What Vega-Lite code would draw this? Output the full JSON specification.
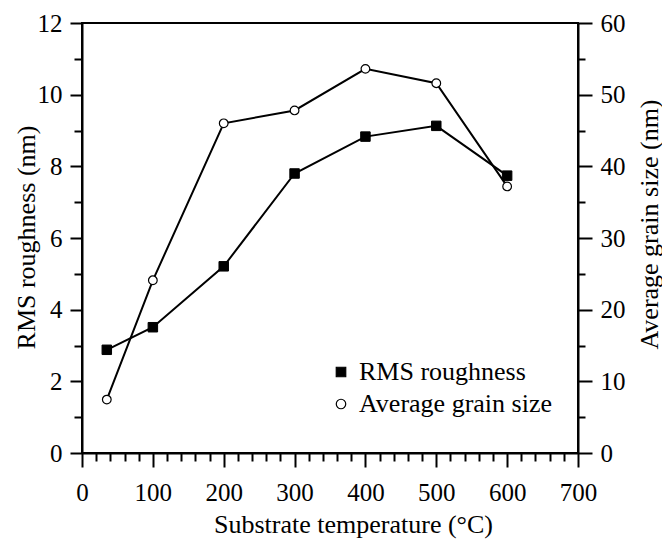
{
  "$schema": "https://vega.github.io/schema/vega-lite/v6.json",
  "width": 496,
  "height": 430,
  "autosize": {"type": "none"},
  "padding": {"left": 82, "top": 23, "right": 84, "bottom": 88},
  "background": "white",
  "config": {
    "font": "Liberation Serif",
    "view": {"stroke": "black", "strokeWidth": 2},
    "axis": {
      "grid": false,
      "domainColor": "black",
      "domainWidth": 2,
      "tickColor": "black",
      "tickWidth": 2,
      "labelColor": "black",
      "labelFont": "Liberation Serif",
      "labelFontSize": 25,
      "labelOverlap": false,
      "labelFlush": false,
      "titleColor": "black",
      "titleFont": "Liberation Serif",
      "titleFontSize": 26,
      "titleFontWeight": "normal"
    },
    "legend": {
      "orient": "none", "legendX": 246, "legendY": 336, "title": null,
      "labelFontSize": 26, "labelFont": "Liberation Serif", "labelColor": "black",
      "labelLimit": 0,
      "symbolSize": 90, "symbolStrokeWidth": 1.2,
      "labelOffset": 5, "rowPadding": 6
    }
  },
  "datasets": {
    "rms": [
      {"T": 35, "series": "RMS roughness", "value": 2.88},
      {"T": 100, "series": "RMS roughness", "value": 3.51},
      {"T": 200, "series": "RMS roughness", "value": 5.21},
      {"T": 300, "series": "RMS roughness", "value": 7.8},
      {"T": 400, "series": "RMS roughness", "value": 8.83},
      {"T": 500, "series": "RMS roughness", "value": 9.13},
      {"T": 600, "series": "RMS roughness", "value": 7.74}
    ],
    "grain": [
      {"T": 35, "series": "Average grain size", "value": 7.45},
      {"T": 100, "series": "Average grain size", "value": 24.1},
      {"T": 200, "series": "Average grain size", "value": 46.0},
      {"T": 300, "series": "Average grain size", "value": 47.8},
      {"T": 400, "series": "Average grain size", "value": 53.6},
      {"T": 500, "series": "Average grain size", "value": 51.6},
      {"T": 600, "series": "Average grain size", "value": 37.2}
    ]
  },
  "encoding": {
    "x": {
      "field": "T",
      "type": "quantitative",
      "scale": {"domain": [0, 700], "nice": false, "zero": false},
      "axis": {
        "title": "Substrate temperature (°C)",
        "values": [0,20,40,60,80,100,120,140,160,180,200,220,240,260,280,300,320,340,360,380,400,420,440,460,480,500,520,540,560,580,600,620,640,660,680,700],
        "labelExpr": "datum.value % 100 === 0 ? datum.label : ''",
        "tickSize": {"condition": {"test": "datum.value % 100 === 0", "value": 14}, "value": 8},
        "labelPadding": 33,
        "labelBaseline": "alphabetic",
        "titleX": 271,
        "titleY": 79,
        "titleAlign": "center",
        "titleBaseline": "alphabetic"
      }
    }
  },
  "layer": [
    {
      "data": {"name": "rms"},
      "encoding": {
        "y": {
          "field": "value",
          "type": "quantitative",
          "scale": {"domain": [0, 12], "nice": false},
          "axis": {
            "orient": "left",
            "title": "RMS roughness (nm)",
            "values": [0,1,2,3,4,5,6,7,8,9,10,11,12],
            "labelExpr": "datum.value % 2 === 0 ? datum.label : ''",
            "tickSize": {"condition": {"test": "datum.value % 2 === 0", "value": 12}, "value": 8},
            "labelPadding": 8,
            "titleX": -48,
            "titleY": 214,
            "titleAngle": 270,
            "titleAlign": "center",
            "titleBaseline": "alphabetic"
          }
        }
      },
      "layer": [
        {"mark": {"type": "line", "color": "black", "strokeWidth": 2}},
        {
          "mark": {"type": "point", "size": 90, "strokeWidth": 1, "opacity": 1},
          "encoding": {
            "shape": {
              "field": "series", "type": "nominal",
              "scale": {"domain": ["RMS roughness", "Average grain size"], "range": ["square", "circle"]}
            },
            "fill": {
              "field": "series", "type": "nominal",
              "scale": {"domain": ["RMS roughness", "Average grain size"], "range": ["black", "white"]}
            },
            "stroke": {
              "field": "series", "type": "nominal",
              "scale": {"domain": ["RMS roughness", "Average grain size"], "range": ["black", "black"]}
            }
          }
        }
      ]
    },
    {
      "data": {"name": "grain"},
      "encoding": {
        "y": {
          "field": "value",
          "type": "quantitative",
          "scale": {"domain": [0, 60], "nice": false},
          "axis": {
            "orient": "right",
            "title": "Average grain size (nm)",
            "values": [0,5,10,15,20,25,30,35,40,45,50,55,60],
            "labelExpr": "datum.value % 10 === 0 ? datum.label : ''",
            "tickSize": {"condition": {"test": "datum.value % 10 === 0", "value": 14}, "value": 7},
            "labelPadding": 8,
            "titleX": 79,
            "titleY": 201,
            "titleAngle": 270,
            "titleAlign": "center",
            "titleBaseline": "alphabetic"
          }
        }
      },
      "layer": [
        {"mark": {"type": "line", "color": "black", "strokeWidth": 2}},
        {
          "mark": {"type": "point", "size": 75, "strokeWidth": 1.2, "opacity": 1},
          "encoding": {
            "shape": {
              "field": "series", "type": "nominal",
              "scale": {"domain": ["RMS roughness", "Average grain size"], "range": ["square", "circle"]}
            },
            "fill": {
              "field": "series", "type": "nominal",
              "scale": {"domain": ["RMS roughness", "Average grain size"], "range": ["black", "white"]}
            },
            "stroke": {
              "field": "series", "type": "nominal",
              "scale": {"domain": ["RMS roughness", "Average grain size"], "range": ["black", "black"]}
            }
          }
        }
      ]
    }
  ],
  "resolve": {"scale": {"y": "independent"}}
}
